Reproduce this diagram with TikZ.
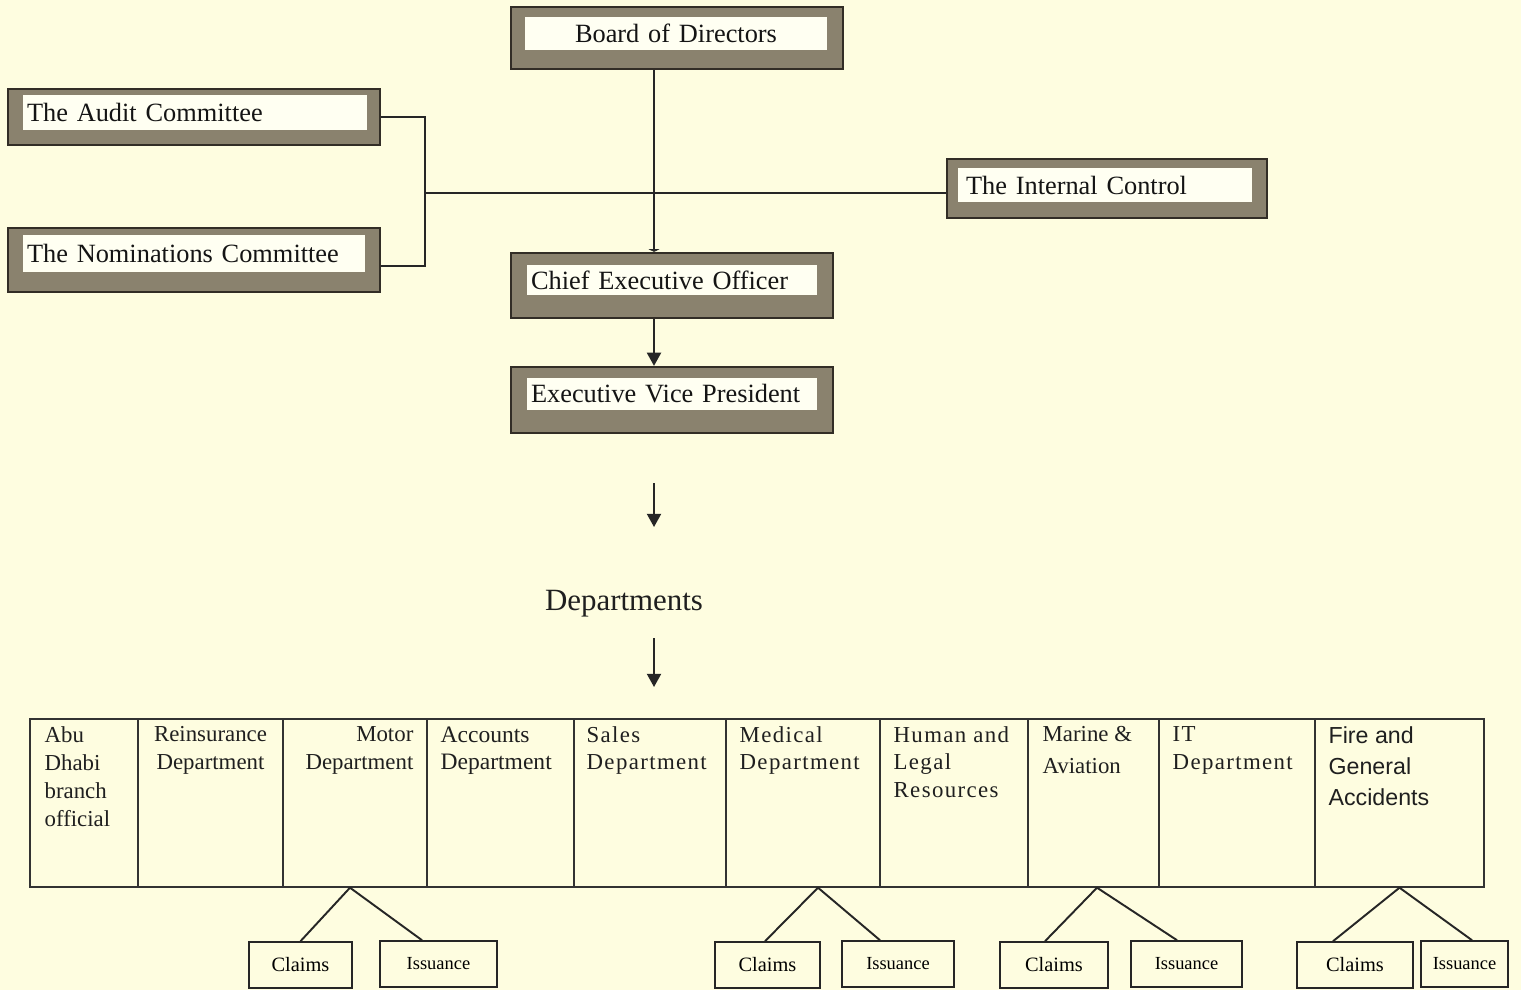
\documentclass[tikz,border=0pt]{standalone}
\usepackage{fontspec}
\setmainfont{Liberation Serif}
\newfontfamily\spacedfont[LetterSpace=6]{Liberation Serif}
\newfontfamily\firefont{Liberation Sans}
\usepackage{tikz}
\usetikzlibrary{
	arrows.meta,
	calc,
	positioning,
}
\definecolor{paper}{RGB}{254,253,224}
\definecolor{framefill}{RGB}{138,130,110}
\definecolor{frameline}{RGB}{50,45,38}
\definecolor{labelfill}{RGB}{255,255,242}
\tikzset{frame box/.style={
	draw=frameline,
	fill=framefill,
	line width=1.3pt,
	inner sep=0mm,
},
label box/.style={
	fill=labelfill,
	inner xsep=0.08cm,
	inner ysep=0mm,
	align=left,
	font=\fontsize{15}{18}\selectfont,
	text=black!92,
},
dept cell/.style={
	draw=black!80,
	line width=0.8pt,
	minimum height=3.36cm,
	inner sep=0mm,
},
dept text/.style={
	align=left,
	inner sep=0mm,
	font=\fontsize{13}{16}\selectfont,
	text=black!88,
},
sub box/.style={
	draw=black!85,
	line width=0.9pt,
	minimum height=0.92cm,
	inner sep=0mm,
	font=\fontsize{11.6}{14}\selectfont,
},
link/.style={line width=1.1pt, black!85},
tip/.style={link, -{Triangle[width=8pt,length=7.5pt]}},
}

\begin{document}
\begin{tikzpicture}[x=0.02cm, y=-0.02cm]

\fill[paper] (0,0) rectangle (1521,990);
\useasboundingbox (0,0) rectangle (1521,990);

% framed boxes
\node(bod)[frame box, minimum width=6.64cm, minimum height=1.24cm] at (677,38) {};
\node(bod-l)[label box, text width=5.9cm, minimum height=0.66cm, align=center] at (676,33.5) {Board of Directors};

\node(audit)[frame box, minimum width=7.44cm, minimum height=1.12cm] at (194,117) {};
\node(audit-l)[label box, text width=6.72cm, minimum height=0.70cm] at (195,112.5) {The Audit Committee};

\node(nom)[frame box, minimum width=7.44cm, minimum height=1.28cm] at (194,260) {};
\node(nom-l)[label box, text width=6.68cm, minimum height=0.74cm] at (194,253.5) {The Nominations Committee};

\node(ic)[frame box, minimum width=6.40cm, minimum height=1.18cm] at (1107,188.5) {};
\node(ic-l)[label box, inner xsep=0.16cm, text width=5.56cm, minimum height=0.68cm] at (1105,185) {The Internal Control};

\node(ceo)[frame box, minimum width=6.44cm, minimum height=1.30cm] at (672,285.5) {};
\node(ceo-l)[label box, text width=5.64cm, minimum height=0.60cm] at (672,280) {Chief Executive Officer};

\node(evp)[frame box, minimum width=6.44cm, minimum height=1.32cm] at (672,400) {};
\node(evp-l)[label box, text width=5.64cm, minimum height=0.64cm] at (672,394) {Executive Vice President};

\coordinate (spine) at (654,0);
\coordinate (join) at (425,193);

\draw[link, -{Triangle[width=6pt,length=1.5pt]}] (bod.south -| spine) -- (ceo.north -| spine);
\draw[link] (join) -- (join -| ic.west);
\draw[link] (audit.east) -| (join);
\draw[link] (join) |- ([yshift=-0.12cm]nom.east);
\draw[tip] (ceo.south -| spine) -- (evp.north -| spine);

% departments
\coordinate (a1) at (654,483);
\coordinate (a2) at (654,527);
\node(deps)[font=\fontsize{17.6}{20}\selectfont, text=black!88] at (624,604) {Departments};
\coordinate (a3) at (654,638);
\coordinate (a4) at (654,687);
\draw[tip] (a1) -- (a2);
\draw[tip] (a3) -- (a4);

\foreach \nm/\l/\r in {abu/30/138, re/138/283, mo/283/427, ac/427/574, sa/574/726,
	me/726/880, hu/880/1028, ma/1028/1159, it/1159/1315, fi/1315/1484}
\node(\nm)[dept cell, minimum width={(\r-\l)*0.02cm}] at ({(\l+\r)/2},803) {};

\node[dept text, anchor=north west] at ([shift={(0.3cm,-0.16cm)}]abu.north west) {Abu\\Dhabi\\branch\\official};
\node[dept text, anchor=north, align=center] at ([yshift=-0.16cm]re.north) {Reinsurance\\Department};
\node[dept text, anchor=north east, align=right] at ([shift={(-0.28cm,-0.16cm)}]mo.north east) {Motor\\Department};
\node[dept text, anchor=north west, font=\fontsize{13.4}{15.4}\selectfont] at ([shift={(0.28cm,-0.16cm)}]ac.north west) {Accounts\\Department};
\node[dept text, anchor=north west, font=\spacedfont\fontsize{13}{15.4}\selectfont] at ([shift={(0.26cm,-0.16cm)}]sa.north west) {Sales\\Department};
\node[dept text, anchor=north west, font=\spacedfont\fontsize{13}{15.6}\selectfont] at ([shift={(0.28cm,-0.16cm)}]me.north west) {Medical\\Department};
\node[dept text, anchor=north west, font=\spacedfont\fontsize{13}{15.6}\selectfont] at ([shift={(0.28cm,-0.16cm)}]hu.north west) {Human and\\Legal\\Resources};
\node[dept text, anchor=north west, font=\fontsize{13}{18}\selectfont] at ([shift={(0.3cm,-0.16cm)}]ma.north west) {Marine \&\\Aviation};
\node[dept text, anchor=north west, font=\spacedfont\fontsize{13}{15.6}\selectfont] at ([shift={(0.28cm,-0.16cm)}]it.north west) {IT\\Department};
\node[dept text, anchor=north west, font=\firefont\fontsize{13.2}{17.6}\selectfont] at ([shift={(0.28cm,-0.16cm)}]fi.north west) {Fire and\\General\\Accidents};

% claims and issuance
\foreach \g/\dx/\cx/\cw/\ix/\iw/\cs/\is in {mo/-0.1/300.5/2.06/438.5/2.34/0/-0.33,
	me/0.3/767.5/2.10/898/2.24/-0.05/-0.36,
	ma/0.07/1054/2.16/1186.5/2.22/-0.18/-0.19,
	fi/0/1355/2.32/1464.5/1.74/-0.44/0.15}
{
\node(\g-c)[sub box, minimum width=\cw cm] at (\cx,965) {Claims};
\node(\g-i)[sub box, minimum width=\iw cm, font=\fontsize{10.5}{12}\selectfont] at (\ix,964) {Issuance};
\draw[link] ([xshift=\dx cm]\g.south) -- ([xshift=\cs cm]\g-c.north);
\draw[link] ([xshift=\dx cm]\g.south) -- ([xshift=\is cm]\g-i.north);
}

\end{tikzpicture}
\end{document}
